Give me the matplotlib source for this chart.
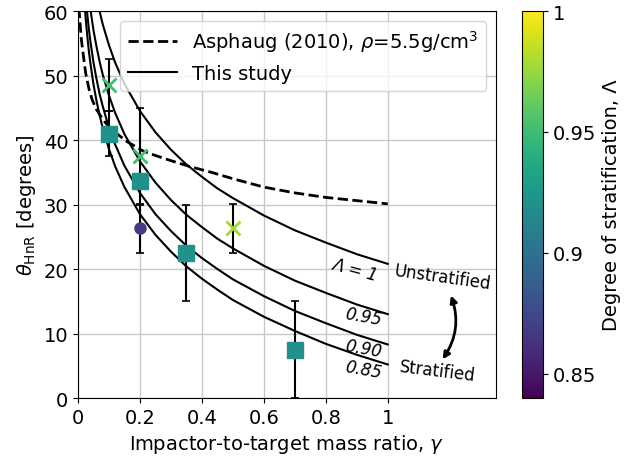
import matplotlib
matplotlib.use('Agg')
import matplotlib.pyplot as plt

# Asphaug (2010) curve
asphaug_gamma = [0.003, 0.006, 0.011, 0.018, 0.025, 0.035, 0.046, 0.06, 0.08, 0.104, 0.13, 0.16,
                 0.21, 0.25, 0.3, 0.36, 0.43, 0.5, 0.6, 0.7, 0.8, 0.9, 1.0]
asphaug_theta = [60.5, 58.5, 55.5, 52.8, 50.3, 48.0, 46.2, 44.7, 43.2, 41.8, 40.8, 39.7,
                 38.3, 37.6, 36.8, 35.9, 35.0, 34.0, 32.7, 31.8, 31.1, 30.6, 30.1]

# "This study" curves for several degrees of stratification
curve_gamma = [0.015, 0.02, 0.025, 0.03, 0.035, 0.04, 0.05, 0.06, 0.07, 0.08, 0.1, 0.12, 0.15,
               0.2, 0.25, 0.3, 0.35, 0.4, 0.45, 0.5, 0.6, 0.7, 0.8, 0.9, 1.0]
curve_lam1 = [82.5, 78.3, 75.0, 72.4, 70.1, 68.1, 64.8, 62.2, 59.9, 57.9, 54.7, 52.0, 48.7,
              44.5, 41.2, 38.5, 36.2, 34.3, 32.5, 31.0, 28.3, 26.0, 24.1, 22.3, 20.8]
curve_lam095 = [74.7, 70.5, 67.2, 64.6, 62.3, 60.3, 57.0, 54.4, 52.1, 50.1, 46.9, 44.2, 40.9,
                36.7, 33.4, 30.7, 28.4, 26.5, 24.7, 23.2, 20.5, 18.2, 16.3, 14.5, 13.0]
curve_lam090 = [69.6, 65.4, 62.2, 59.5, 57.2, 55.3, 52.0, 49.4, 47.1, 45.2, 41.9, 39.3, 36.0,
                31.8, 28.5, 25.9, 23.6, 21.7, 20.0, 18.4, 15.8, 13.5, 11.6, 9.8, 8.3]
curve_lam085 = [66.1, 61.9, 58.7, 56.1, 53.8, 51.9, 48.6, 46.0, 43.8, 41.8, 38.6, 35.9, 32.7,
                28.5, 25.3, 22.7, 20.4, 18.5, 16.8, 15.2, 12.6, 10.4, 8.4, 6.7, 5.2]

# simulation results: gamma, theta, error, stratification
sq_gamma = [0.1, 0.2, 0.35, 0.7]
sq_theta = [41.0, 33.7, 22.5, 7.5]
sq_err = [3.5, 0.0, 7.5, 7.5]
sq_lam = [0.92, 0.92, 0.92, 0.92]

x_gamma = [0.1, 0.2, 0.5]
x_theta = [48.5, 37.5, 26.3]
x_err = [4.0, 7.5, 3.75]
x_lam = [0.952, 0.952, 0.978]

o_gamma = [0.2]
o_theta = [26.3]
o_err = [3.75]
o_lam = [0.867]

vmin, vmax = 0.84, 1.0
cmap = plt.get_cmap('viridis')
norm = matplotlib.colors.Normalize(vmin=vmin, vmax=vmax)
fs = 14

fig = plt.figure(figsize=(6.41, 4.6), dpi=100)
ax = fig.add_axes([0.1217, 0.1326, 0.6523, 0.8413])
cax = fig.add_axes([0.8143, 0.1326, 0.0328, 0.8413])

ax.grid(True, color='#c8c8c8', lw=1.0, zorder=0)

ax.plot(asphaug_gamma, asphaug_theta, 'k--', lw=2, label=r'Asphaug (2010), $\rho$=5.5g/cm$^3$', zorder=3)
ax.plot(curve_gamma, curve_lam1, 'k-', lw=1.5, label='This study', zorder=3)
for th in [curve_lam095, curve_lam090, curve_lam085]:
    ax.plot(curve_gamma, th, 'k-', lw=1.5, zorder=3)

# error bars
for g, t, e in zip(sq_gamma + x_gamma + o_gamma, sq_theta + x_theta + o_theta, sq_err + x_err + o_err):
    if e > 0:
        ax.errorbar(g, t, yerr=e, fmt='none', ecolor='k', elinewidth=1.5, capsize=3, capthick=1.2, zorder=4)

for g, t, l in zip(sq_gamma, sq_theta, sq_lam):
    ax.plot(g, t, 's', ms=11.5, color=cmap(norm(l)), zorder=5)
for g, t, l in zip(x_gamma, x_theta, x_lam):
    ax.plot(g, t, 'x', ms=10, mew=2, color=cmap(norm(l)), zorder=5)
for g, t, l in zip(o_gamma, o_theta, o_lam):
    ax.plot(g, t, 'o', ms=8, color=cmap(norm(l)), zorder=5)

# curve labels
ax.text(0.893, 19.9, 'Λ = 1', fontsize=12, style='italic', rotation=-15, ha='center', va='center')
ax.text(0.922, 12.7, '0.95', fontsize=12, style='italic', rotation=-10, ha='center', va='center')
ax.text(0.922, 7.75, '0.90', fontsize=12, style='italic', rotation=-10, ha='center', va='center')
ax.text(0.922, 4.5, '0.85', fontsize=12, style='italic', rotation=-10, ha='center', va='center')
ax.text(1.175, 18.8, 'Unstratified', fontsize=12, rotation=-8, ha='center', va='center')
ax.text(1.159, 4.3, 'Stratified', fontsize=12, rotation=-7, ha='center', va='center')
ax.annotate('', xy=(1.177, 6.0), xytext=(1.204, 15.9),
            arrowprops=dict(arrowstyle='<|-|>', lw=2, color='k', mutation_scale=10,
                            connectionstyle='arc3,rad=-0.25', shrinkA=0, shrinkB=0))

ax.set_xlim(0, 1.35)
ax.set_ylim(0, 60)
ax.set_xticks([0, 0.2, 0.4, 0.6, 0.8, 1.0])
ax.set_xticklabels(['0', '0.2', '0.4', '0.6', '0.8', '1'])
ax.set_yticks([0, 10, 20, 30, 40, 50, 60])
ax.tick_params(labelsize=fs)
ax.set_xlabel(r'Impactor-to-target mass ratio, $\gamma$', fontsize=fs)
ax.set_ylabel(r'$\theta_{\rm HnR}$ [degrees]', fontsize=fs)
ax.legend(loc='upper right', fontsize=fs, framealpha=0.8, handlelength=2.5)

sm = matplotlib.cm.ScalarMappable(norm=norm, cmap=cmap)
cb = fig.colorbar(sm, cax=cax)
cb.set_ticks([0.85, 0.9, 0.95, 1.0])
cb.set_ticklabels(['0.85', '0.9', '0.95', '1'])
cb.ax.tick_params(labelsize=fs)
cb.set_label('Degree of stratification, Λ', fontsize=fs)

fig.savefig('out.png', dpi=100)
